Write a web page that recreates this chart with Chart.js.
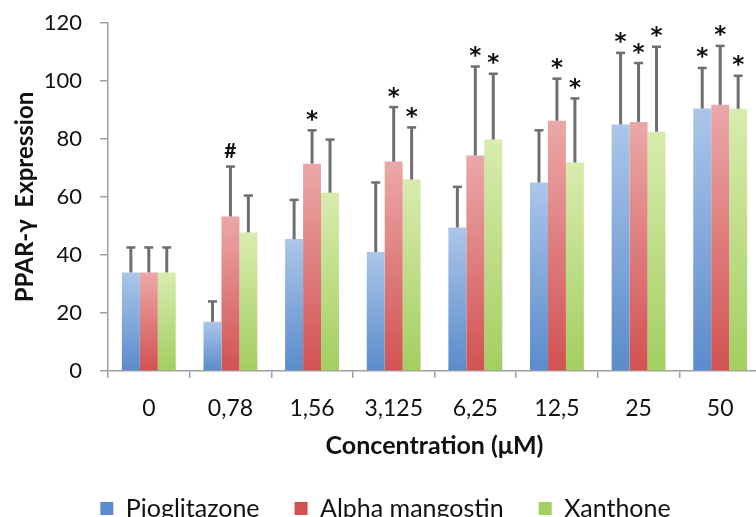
<!DOCTYPE html>
<html>
<head>
<meta charset="utf-8">
<script src="https://cdn.jsdelivr.net/npm/chart.js@4.4.0/dist/chart.umd.min.js"></script>
<style>
  html, body { margin: 0; padding: 0; background: #fff; overflow: hidden; }
  #wrap { width: 756px; height: 517px; overflow: hidden; }
</style>
</head>
<body>
<div id="wrap"><canvas id="myChart" width="770" height="531"></canvas></div>
<script>
// categories (concentration, uM)
var labels = ['0', '0,78', '1,56', '3,125', '6,25', '12,5', '25', '50'];

// means
var pioglitazone = [34, 17, 45.5, 41, 49.5, 65, 85, 90.5];
var alphaMangostin = [34, 53.3, 71.5, 72.2, 74.3, 86.3, 85.9, 91.8];
var xanthone = [34, 47.8, 61.5, 66, 79.8, 71.9, 82.5, 90.4];

// upper error (SD)
var pioglitazoneErr = [8.6, 7, 13.5, 24, 14, 18, 24.7, 14];
var alphaMangostinErr = [8.6, 17.2, 11.5, 18.8, 30.7, 14.5, 20.3, 20.3];
var xanthoneErr = [8.6, 12.7, 18.3, 18, 22.7, 22.1, 29.3, 11.4];

// significance marks
var pioglitazoneMark = ['', '', '', '', '', '', '*', '*'];
var alphaMangostinMark = ['', '#', '*', '*', '*', '*', '*', '*'];
var xanthoneMark = ['', '', '', '*', '*', '*', '*', '*'];

var yTicks = [0, 20, 40, 60, 80, 100, 120];

var FONT = "Lato, 'Open Sans', sans-serif";

function barFill(light, dark, mid) {
  return function (ctx) {
    if (ctx.type !== 'data') return mid;
    var chart = ctx.chart;
    if (!chart.chartArea) return mid;
    var y = chart.scales.y;
    var top = y.getPixelForValue(ctx.raw);
    var bottom = y.getPixelForValue(0);
    if (!isFinite(top) || bottom - top < 1) return mid;
    var g = chart.ctx.createLinearGradient(0, top, 0, bottom);
    g.addColorStop(0, light);
    g.addColorStop(1, dark);
    return g;
  };
}

var errorBars = {
  id: 'errorBars',
  afterDatasetsDraw: function (chart) {
    var c = chart.ctx;
    var y = chart.scales.y;
    var errs = [pioglitazoneErr, alphaMangostinErr, xanthoneErr];
    var marks = [pioglitazoneMark, alphaMangostinMark, xanthoneMark];
    c.save();
    chart.data.datasets.forEach(function (ds, i) {
      var meta = chart.getDatasetMeta(i);
      meta.data.forEach(function (bar, j) {
        var x = bar.x;
        var yTop = y.getPixelForValue(ds.data[j] + errs[i][j]);
        c.strokeStyle = '#6e6e6e';
        c.lineWidth = 3;
        c.beginPath();
        c.moveTo(x, bar.y);
        c.lineTo(x, yTop);
        c.stroke();
        c.lineWidth = 2.5;
        c.beginPath();
        c.moveTo(x - 4.5, yTop);
        c.lineTo(x + 4.5, yTop);
        c.stroke();
        var m = marks[i][j];
        if (m) {
          c.fillStyle = '#111';
          c.textAlign = 'center';
          c.textBaseline = 'alphabetic';
          c.font = m === '*' ? "bold 23px 'DejaVu Sans'" : "bold 21px " + FONT;
          var tm = c.measureText(m);
          var cy = yTop - (m === '*' ? 15 : 16);
          c.fillText(m, x, cy + (tm.actualBoundingBoxAscent - tm.actualBoundingBoxDescent) / 2);
        }
      });
    });
    c.restore();
  }
};

var ctx = document.getElementById('myChart').getContext('2d');
var chart = new Chart(ctx, {
  type: 'bar',
  data: {
    labels: labels,
    datasets: [{
      label: 'Pioglitazone',
      data: pioglitazone,
      backgroundColor: barFill('#abc6e9', '#5a8bcb', '#86acdf')
    }, {
      label: 'Alpha mangostin',
      data: alphaMangostin,
      backgroundColor: barFill('#eba8a8', '#d25252', '#e18282')
    }, {
      label: 'Xanthone',
      data: xanthone,
      backgroundColor: barFill('#d8ecae', '#a4ce60', '#bfde8c')
    }]
  },
  options: {
    responsive: false,
    animation: false,
    categoryPercentage: 0.66,
    barPercentage: 1,
    layout: { padding: { left: 10, right: 9, top: 23, bottom: 0 } },
    plugins: {
      tooltip: { enabled: false },
      legend: {
        position: 'bottom',
        labels: {
          font: { family: FONT, size: 25 },
          color: '#111',
          boxWidth: 13,
          boxHeight: 13,
          padding: 35
        }
      }
    },
    scales: {
      y: {
        min: 0,
        max: 120,
        afterBuildTicks: function (axis) {
          axis.ticks = yTicks.map(function (v) { return { value: v }; });
        },
        afterFit: function (axis) {
          axis.width = 98;
          axis.paddingTop = 0;
          axis.paddingBottom = 0;
        },
        border: { color: '#a0a0a0', width: 1.5 },
        grid: { drawOnChartArea: false, tickLength: 8, color: '#a0a0a0', lineWidth: 1.5 },
        ticks: { font: { family: FONT, size: 22 }, color: '#111', padding: 18 },
        title: {
          display: true,
          text: 'PPAR-\u03B3  Expression',
          font: { family: FONT, size: 24, weight: 'bold' },
          color: '#111',
          padding: { top: 1, bottom: 0 }
        }
      },
      x: {
        afterFit: function (axis) {
          axis.height = 90;
        },
        border: { color: '#a0a0a0', width: 1.5 },
        grid: { drawOnChartArea: false, tickLength: 7, color: '#a0a0a0', lineWidth: 1.5 },
        ticks: { font: { family: FONT, size: 23 }, color: '#111', padding: 17 },
        title: {
          display: true,
          text: 'Concentration (\u03BCM)',
          font: { family: FONT, size: 25, weight: 'bold' },
          color: '#111',
          padding: { top: 0, bottom: 0 }
        }
      }
    }
  },
  plugins: [errorBars]
});
</script>
</body>
</html>
